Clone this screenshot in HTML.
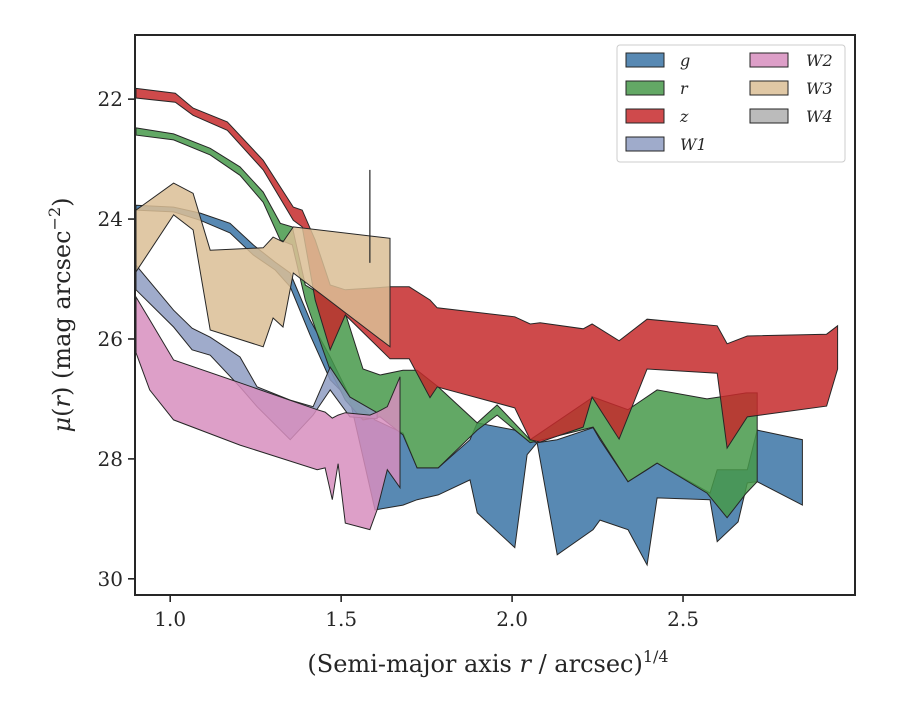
<!DOCTYPE html>
<html><head><meta charset="utf-8"><style>
body{margin:0;background:#fff}
svg text{font-family:"DejaVu Serif","Liberation Serif",serif;fill:#262626}
</style></head><body>
<svg id="chart" width="900" height="700" viewBox="0 0 900 700" xmlns="http://www.w3.org/2000/svg">
<rect width="900" height="700" fill="#fff"/>
<g id="bands"></g>
<g id="axes"></g>
</svg>
<script>
const xMin=0.897, xMax=3.003, muTop=20.93, muBot=30.27;
const L=135, R=855, T=35, B=595;
function sx(v){return L+(v-xMin)/(xMax-xMin)*(R-L);}
function sy(v){return T+(v-muTop)/(muBot-muTop)*(B-T);}

const gX=[0.90,1.01,1.088,1.175,1.243,1.307,1.351,1.409,1.468,1.526,1.599,1.681,1.722,1.784,1.877,1.898,2.008,2.044,2.073,2.132,2.237,2.257,2.339,2.395,2.424,2.579,2.60,2.661,2.688,2.717,2.849];
const gTop=[23.77,23.80,23.90,24.07,24.43,24.72,24.90,25.68,26.30,26.97,27.35,27.57,28.15,28.15,27.68,27.40,27.52,27.68,27.73,27.68,27.48,27.68,28.38,28.18,28.07,28.57,28.18,28.18,28.18,27.52,27.68];
const gBot=[23.85,23.88,24.02,24.23,24.60,24.85,25.13,25.93,26.68,27.02,28.85,28.77,28.68,28.60,28.35,28.90,29.48,27.93,27.73,29.60,29.18,29.02,29.18,29.77,28.65,28.68,29.38,29.05,28.40,28.38,28.77];

const rX=[0.90,1.01,1.117,1.204,1.272,1.322,1.357,1.395,1.468,1.512,1.564,1.614,1.681,1.722,1.784,1.898,1.956,2.053,2.237,2.339,2.424,2.57,2.629,2.685,2.717];
const rTop=[22.48,22.58,22.82,23.13,23.55,24.07,24.13,25.10,25.35,25.57,26.50,26.60,26.52,26.52,26.80,27.40,27.10,27.68,26.97,27.18,26.85,27.00,26.95,26.90,26.90];
const rBot=[22.60,22.68,22.93,23.27,23.72,24.35,24.43,25.35,26.52,27.02,27.35,27.30,27.60,28.15,28.15,27.52,27.27,27.73,27.47,28.38,28.07,28.57,28.98,28.57,28.38];

const zX=[0.90,1.015,1.067,1.167,1.272,1.36,1.386,1.424,1.468,1.512,1.643,1.699,1.76,1.781,2.008,2.053,2.082,2.208,2.234,2.313,2.395,2.60,2.629,2.688,2.92,2.952];
const zTop=[21.82,21.90,22.15,22.38,23.02,23.80,23.85,24.35,25.10,25.18,25.13,25.13,25.35,25.48,25.63,25.75,25.73,25.83,25.75,26.03,25.67,25.78,26.08,25.95,25.92,25.78];
const zBot=[21.98,22.05,22.27,22.52,23.18,24.02,24.13,25.35,26.18,25.60,26.33,26.33,26.98,26.80,27.15,27.68,27.72,27.47,26.97,27.67,26.50,26.57,27.82,27.30,27.12,26.50];

const w1X=[0.90,1.01,1.064,1.117,1.204,1.254,1.351,1.418,1.468,1.526,1.605];
const w1Top=[24.77,25.52,25.82,25.97,26.30,26.80,27.02,27.13,26.47,26.97,27.23];
const w1Bot=[25.18,25.80,26.18,26.27,26.80,27.13,27.68,27.27,26.85,27.30,27.33];

const w2X=[0.90,0.94,1.01,1.204,1.43,1.453,1.474,1.491,1.512,1.584,1.605,1.635,1.672];
const w2Top=[25.30,25.68,26.35,26.73,27.18,27.22,27.32,27.27,27.23,27.27,27.22,27.13,26.63];
const w2Bot=[26.23,26.85,27.35,27.77,28.18,28.15,28.68,28.08,29.07,29.18,28.85,28.18,28.48];

const w3X=[0.90,1.01,1.067,1.117,1.272,1.301,1.33,1.36,1.643];
const w3Top=[23.85,23.40,23.57,24.52,24.48,24.30,24.38,24.13,24.32];
const w3Bot=[24.88,23.93,24.18,25.85,26.13,25.65,25.80,24.90,26.13];

const errX=[1.584];
const errLo=[23.18];
const errHi=[24.73];

const xTicks=[1.0,1.5,2.0,2.5];
const xTickLabels=["1.0","1.5","2.0","2.5"];
const yTicks=[22,24,26,28,30];
const yTickLabels=["22","24","26","28","30"];

const NS="http://www.w3.org/2000/svg";
const bands=document.getElementById('bands');
const axes=document.getElementById('axes');

const series=[
 {name:'band-g',x:gX,t:gTop,b:gBot,c:'rgb(59,116,166)'},
 {name:'band-r',x:rX,t:rTop,b:rBot,c:'rgb(71,153,74)'},
 {name:'band-z',x:zX,t:zTop,b:zBot,c:'rgb(198,42,44)'},
 {name:'band-w1',x:w1X,t:w1Top,b:w1Bot,c:'rgb(142,156,194)'},
 {name:'band-w2',x:w2X,t:w2Top,b:w2Bot,c:'rgb(215,142,190)'},
 {name:'band-w3',x:w3X,t:w3Top,b:w3Bot,c:'rgb(218,190,149)'}
];
series.forEach(s=>{
  let pts=[];
  for(let i=0;i<s.x.length;i++)pts.push(sx(s.x[i]).toFixed(1)+','+sy(s.t[i]).toFixed(1));
  for(let i=s.x.length-1;i>=0;i--)pts.push(sx(s.x[i]).toFixed(1)+','+sy(s.b[i]).toFixed(1));
  const p=document.createElementNS(NS,'polygon');
  p.setAttribute('points',pts.join(' '));
  p.setAttribute('fill',s.c);
  p.setAttribute('fill-opacity','0.85');
  p.setAttribute('stroke','#262626');
  p.setAttribute('stroke-width','1');
  
  
  bands.appendChild(p);
});
for(let i=0;i<errX.length;i++){
  const l=document.createElementNS(NS,'line');
  l.setAttribute('x1',sx(errX[i]));l.setAttribute('x2',sx(errX[i]));
  l.setAttribute('y1',sy(errLo[i]));l.setAttribute('y2',sy(errHi[i]));
  l.setAttribute('stroke','#262626');l.setAttribute('stroke-width','1.2');
  
  
  bands.appendChild(l);
}
// frame
const fr=document.createElementNS(NS,'rect');
fr.setAttribute('x',L);fr.setAttribute('y',T);fr.setAttribute('width',R-L);fr.setAttribute('height',B-T);
fr.setAttribute('fill','none');fr.setAttribute('stroke','#262626');fr.setAttribute('stroke-width','2');


axes.appendChild(fr);
xTicks.forEach((v,i)=>{
  const l=document.createElementNS(NS,'line');
  l.setAttribute('x1',sx(v));l.setAttribute('x2',sx(v));l.setAttribute('y1',B);l.setAttribute('y2',B+7);
  l.setAttribute('stroke','#262626');l.setAttribute('stroke-width','1.6');
  
  
  axes.appendChild(l);
  const t=document.createElementNS(NS,'text');
  t.setAttribute('x',sx(v));t.setAttribute('y',B+31);t.setAttribute('text-anchor','middle');t.setAttribute('font-size','20');
  t.textContent=xTickLabels[i];
  
  
  axes.appendChild(t);
});
yTicks.forEach((v,i)=>{
  const l=document.createElementNS(NS,'line');
  l.setAttribute('x1',L-7);l.setAttribute('x2',L);l.setAttribute('y1',sy(v));l.setAttribute('y2',sy(v));
  l.setAttribute('stroke','#262626');l.setAttribute('stroke-width','1.6');
  
  
  axes.appendChild(l);
  const t=document.createElementNS(NS,'text');
  t.setAttribute('x',L-12);t.setAttribute('y',sy(v)+7);t.setAttribute('text-anchor','end');t.setAttribute('font-size','20');
  t.textContent=yTickLabels[i];
  
  
  axes.appendChild(t);
});
</script>
<svg style="position:absolute;left:0;top:0" width="900" height="700">
<text x="488" y="672" text-anchor="middle" font-size="24" font-family="DejaVu Serif, Liberation Serif, serif" fill="#262626">(Semi-major axis <tspan font-style="italic">r</tspan> / arcsec)<tspan font-size="16" dy="-10">1/4</tspan></text>
<text transform="translate(70,315) rotate(-90)" text-anchor="middle" font-size="24" font-family="DejaVu Serif, Liberation Serif, serif" fill="#262626"><tspan font-style="italic">μ</tspan>(<tspan font-style="italic">r</tspan>) (mag arcsec<tspan font-size="16" dy="-10">−2</tspan><tspan dy="10">)</tspan></text>
<g font-family="DejaVu Sans, Liberation Sans, sans-serif" font-size="16" font-style="italic" fill="#262626">
<rect x="617" y="45" width="228" height="117" rx="3" fill="#fff" fill-opacity="0.9" stroke="#ccc"/>
<g><rect x="626" y="53" width="38" height="14" fill="rgb(88,137,179)" stroke="#262626"/><text x="680" y="66">g</text></g>
<g><rect x="626" y="81" width="38" height="14" fill="rgb(99,168,101)" stroke="#262626"/><text x="680" y="94">r</text></g>
<g><rect x="626" y="109" width="38" height="14" fill="rgb(207,74,76)" stroke="#262626"/><text x="680" y="122">z</text></g>
<g><rect x="626" y="137" width="38" height="14" fill="rgb(159,171,203)" stroke="#262626"/><text x="680" y="150">W1</text></g>
<g><rect x="750" y="53" width="38" height="14" fill="rgb(221,159,200)" stroke="#262626"/><text x="806" y="66">W2</text></g>
<g><rect x="750" y="81" width="38" height="14" fill="rgb(224,200,165)" stroke="#262626"/><text x="806" y="94">W3</text></g>
<g><rect x="750" y="109" width="38" height="14" fill="rgb(187,187,187)" stroke="#262626"/><text x="806" y="122">W4</text></g>
</g>
</svg>
</body></html>
